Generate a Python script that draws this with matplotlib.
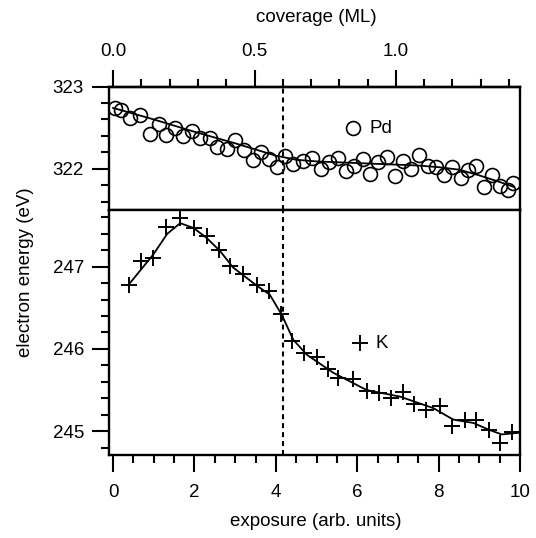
import numpy as np
import matplotlib
matplotlib.use("Agg")
import matplotlib.pyplot as plt
from matplotlib.ticker import MultipleLocator, FixedLocator, FormatStrFormatter

plt.rcParams['font.family'] = ['Liberation Sans', 'DejaVu Sans']
plt.rcParams['font.size'] = 13.5

# Pd core level (top panel)
pd_x = [0.05, 0.19, 0.42, 0.67, 0.90, 1.12, 1.31, 1.53, 1.71, 1.94, 2.14, 2.37,
        2.56, 2.80, 3.00, 3.22, 3.43, 3.64, 3.82, 4.02, 4.23, 4.43, 4.66, 4.88,
        5.10, 5.31, 5.53, 5.72, 5.92, 6.13, 6.31, 6.52, 6.74, 6.93, 7.13, 7.33,
        7.52, 7.73, 7.93, 8.13, 8.34, 8.54, 8.72, 8.93, 9.11, 9.31, 9.50, 9.71, 9.83]
pd_y = [322.74, 322.72, 322.62, 322.65, 322.42, 322.55, 322.41, 322.50, 322.40, 322.46,
        322.37, 322.38, 322.27, 322.24, 322.35, 322.23, 322.11, 322.20, 322.12, 322.02,
        322.16, 322.06, 322.10, 322.13, 322.00, 322.08, 322.13, 321.97, 322.03, 322.12,
        321.94, 322.08, 322.14, 321.91, 322.09, 322.00, 322.17, 322.03, 322.02, 321.93,
        322.02, 321.89, 321.99, 322.03, 321.78, 321.92, 321.79, 321.74, 321.83]
pd_fit_x = [0.0, 1.0, 2.0, 3.0, 4.0, 4.5, 5.0, 6.0, 7.0, 7.5, 8.0, 8.5, 9.0, 9.5, 9.85]
pd_fit_y = [322.74, 322.60, 322.45, 322.31, 322.16, 322.11, 322.09, 322.07, 322.05,
            322.04, 322.02, 321.99, 321.92, 321.84, 321.78]

# K core level (bottom panel)
k_x = [0.38, 0.68, 0.99, 1.31, 1.65, 1.98, 2.30, 2.61, 2.88, 3.20, 3.53, 3.84,
       4.13, 4.39, 4.69, 5.00, 5.29, 5.53, 5.90, 6.23, 6.54, 6.84, 7.13, 7.40,
       7.70, 8.03, 8.34, 8.64, 8.93, 9.24, 9.50, 9.81]
k_y = [246.78, 247.07, 247.10, 247.48, 247.59, 247.47, 247.37, 247.20, 247.01, 246.91,
       246.78, 246.71, 246.43, 246.10, 245.95, 245.90, 245.76, 245.65, 245.64, 245.49,
       245.46, 245.40, 245.48, 245.33, 245.26, 245.30, 245.06, 245.14, 245.14, 245.01,
       244.85, 244.99]
k_fit_x = [0.38, 0.99, 1.33, 1.65, 1.98, 2.30, 2.63, 2.95, 3.53, 3.85, 4.14, 4.43,
           4.76, 5.41, 6.23, 7.05, 7.87, 8.36, 8.85, 9.22, 9.55, 9.96]
k_fit_y = [246.78, 247.15, 247.40, 247.53, 247.47, 247.35, 247.19, 246.99, 246.77, 246.66,
           246.42, 246.11, 245.93, 245.71, 245.50, 245.42, 245.28, 245.14, 245.10, 245.02,
           244.96, 244.98]

cov_major = [0.0, 0.5, 1.0]
cov_minor = [0.1, 0.2, 0.3, 0.4, 0.6, 0.7, 0.8, 0.9, 1.1, 1.2, 1.3, 1.4]

x_onset = 4.17          # exposure at 0.6 ML
cov_per_exp = 0.6 / x_onset

fig = plt.figure(figsize=(5.36, 5.38), dpi=100)
ax_top = fig.add_axes([0.2034, 0.6097, 0.7668, 0.2295])
ax_bot = fig.add_axes([0.2034, 0.1543, 0.7668, 0.4554])

lw_frame = 1.7
for ax in (ax_top, ax_bot):
    ax.set_xlim(-0.1, 10)
    for s in ax.spines.values():
        s.set_linewidth(lw_frame)
    ax.axvline(x_onset, color='black', lw=1.5, ls=(0, (2.4, 1.9)))
    ax.tick_params(which='major', direction='out', length=12, width=1.5, pad=6)
    ax.tick_params(which='minor', direction='out', length=6, width=1.5)

# top panel
ax_top.plot(pd_fit_x, pd_fit_y, color='black', lw=1.3)
ax_top.plot(pd_x, pd_y, 'o', mfc='none', mec='black', ms=10, mew=1.2)
ax_top.set_ylim(321.5, 323)
ax_top.yaxis.set_major_locator(MultipleLocator(1))
ax_top.yaxis.set_minor_locator(MultipleLocator(0.2))
ax_top.tick_params(which='both', bottom=False, labelbottom=False, right=False, top=False)
ax_top.plot([5.89], [322.49], 'o', mfc='none', mec='black', ms=10, mew=1.2)
ax_top.text(6.3, 322.49, 'Pd', va='center', ha='left')

cov = ax_top.secondary_xaxis('top', functions=(lambda e: e * cov_per_exp,
                                                lambda c: c / cov_per_exp))
cov.spines['top'].set_linewidth(lw_frame)
cov.xaxis.set_major_locator(FixedLocator(cov_major))
cov.xaxis.set_minor_locator(FixedLocator(cov_minor))
cov.xaxis.set_major_formatter(FormatStrFormatter('%.1f'))
cov.tick_params(which='major', direction='out', length=12, width=1.5, pad=7)
cov.tick_params(which='minor', direction='out', length=6, width=1.5)

# bottom panel
ax_bot.plot(k_fit_x, k_fit_y, color='black', lw=1.3)
ax_bot.plot(k_x, k_y, '+', color='black', ms=11, mew=1.4)
ax_bot.set_ylim(244.71, 247.69)
ax_bot.yaxis.set_major_locator(MultipleLocator(1))
ax_bot.yaxis.set_minor_locator(MultipleLocator(0.2))
ax_bot.xaxis.set_major_locator(MultipleLocator(2))
ax_bot.xaxis.set_minor_locator(MultipleLocator(0.5))
ax_bot.tick_params(which='both', top=False, right=False)
ax_bot.tick_params(axis='x', which='major', pad=9)
ax_bot.plot([6.07], [246.07], '+', color='black', ms=11, mew=1.4)
ax_bot.text(6.45, 246.07, 'K', va='center', ha='left')

fig.text(316 / 536, 1 - 521 / 538, 'exposure (arb. units)', ha='center', va='center')
fig.text(316 / 536, 1 - 18 / 538, 'coverage (ML)', ha='center', va='center')
fig.text(26 / 536, 1 - 272 / 538, 'electron energy (eV)', ha='center', va='center',
         rotation=90)

fig.savefig('out.png', dpi=100)
